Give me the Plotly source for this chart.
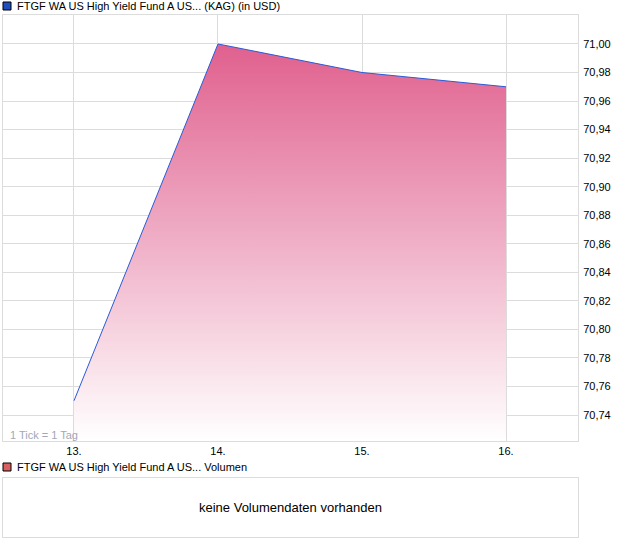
import plotly.graph_objects as go

days = [13, 14, 15, 16]
day_labels = ["13.", "14.", "15.", "16."]
prices = [70.75, 71.00, 70.98, 70.97]
y_ticks = [70.74, 70.76, 70.78, 70.80, 70.82, 70.84, 70.86, 70.88, 70.90, 70.92, 70.94, 70.96, 70.98, 71.00]

FONT = "Liberation Sans, Arial, sans-serif"
GRID = "#dcdcdc"

fig = go.Figure()
fig.add_trace(go.Scatter(
    x=days, y=prices, mode="lines",
    line=dict(color="#2a5bd7", width=1),
    fill="tozeroy",
    fillgradient=dict(type="vertical", start=70.7218, stop=71.00,
                      colorscale=[[0, "rgba(255,255,255,1)"], [1, "#e0608e"]]),
    xaxis="x", yaxis="y", showlegend=False, hoverinfo="skip",
))

fig.update_layout(
    width=620, height=546,
    margin=dict(l=3, r=42, t=15, b=9),
    paper_bgcolor="white", plot_bgcolor="white",
    separators=",.",
    font=dict(family=FONT, size=11, color="#000"),
    showlegend=False,
    xaxis=dict(domain=[0, 1], range=[12.507, 16.5], tickvals=days, ticktext=day_labels,
               showgrid=True, gridcolor=GRID, zeroline=False,
               showline=True, linecolor=GRID, mirror=True, ticks="", anchor="y",
               automargin=False, tickfont=dict(size=11, color="#000")),
    yaxis=dict(domain=[0.1839, 1], range=[70.7218, 71.0203], side="right",
               tickvals=y_ticks, tickformat=".2f", showgrid=True, gridcolor=GRID,
               zeroline=False, showline=True, linecolor=GRID, mirror=True,
               ticks="outside", ticklen=2, tickcolor="white", anchor="x",
               automargin=False, tickfont=dict(size=11, color="#000")),
    xaxis2=dict(domain=[0, 1], range=[0, 1], showgrid=False, zeroline=False,
                showticklabels=False, showline=True, linecolor=GRID, mirror=True,
                anchor="y2", automargin=False),
    yaxis2=dict(domain=[0, 0.113], range=[0, 1], showgrid=False, zeroline=False,
                showticklabels=False, showline=True, linecolor=GRID, mirror=True,
                anchor="x2", automargin=False),
)

fig.add_trace(go.Scatter(x=[0.5], y=[0.5], mode="markers", marker=dict(opacity=0),
                         xaxis="x2", yaxis="y2", showlegend=False, hoverinfo="skip"))

fig.add_annotation(text="keine Volumendaten vorhanden", xref="x2", yref="y2", x=0.5, y=0.5,
                   showarrow=False, font=dict(size=13, color="#000"))

fig.add_shape(type="rect", xref="paper", yref="paper", x0=0, x1=8/575, y0=(537-2)/522, y1=(537-10)/522,
              fillcolor="#1f4fbf", line=dict(color="#000", width=1))
fig.add_annotation(text="FTGF WA US High Yield Fund A US... (KAG) (in USD)", xref="paper", yref="paper",
                   x=12/575, y=(537-6)/522, xanchor="left", yanchor="middle", showarrow=False,
                   font=dict(size=11, color="#000"))
fig.add_shape(type="rect", xref="paper", yref="paper", x0=0, x1=8/575, y0=(537-463)/522, y1=(537-471)/522,
              fillcolor="#d96060", line=dict(color="#000", width=1))
fig.add_annotation(text="FTGF WA US High Yield Fund A US... Volumen", xref="paper", yref="paper",
                   x=12/575, y=(537-467)/522, xanchor="left", yanchor="middle", showarrow=False,
                   font=dict(size=11, color="#000"))
fig.add_annotation(text="1 Tick = 1 Tag", xref="paper", yref="paper",
                   x=5/575, y=(537-435)/522, xanchor="left", yanchor="middle", showarrow=False,
                   font=dict(size=11, color="#a0a8b8"))

fig.write_html("out.html", config={"displayModeBar": False},
               post_script="document.body.style.margin='0';document.body.style.padding='0';")
